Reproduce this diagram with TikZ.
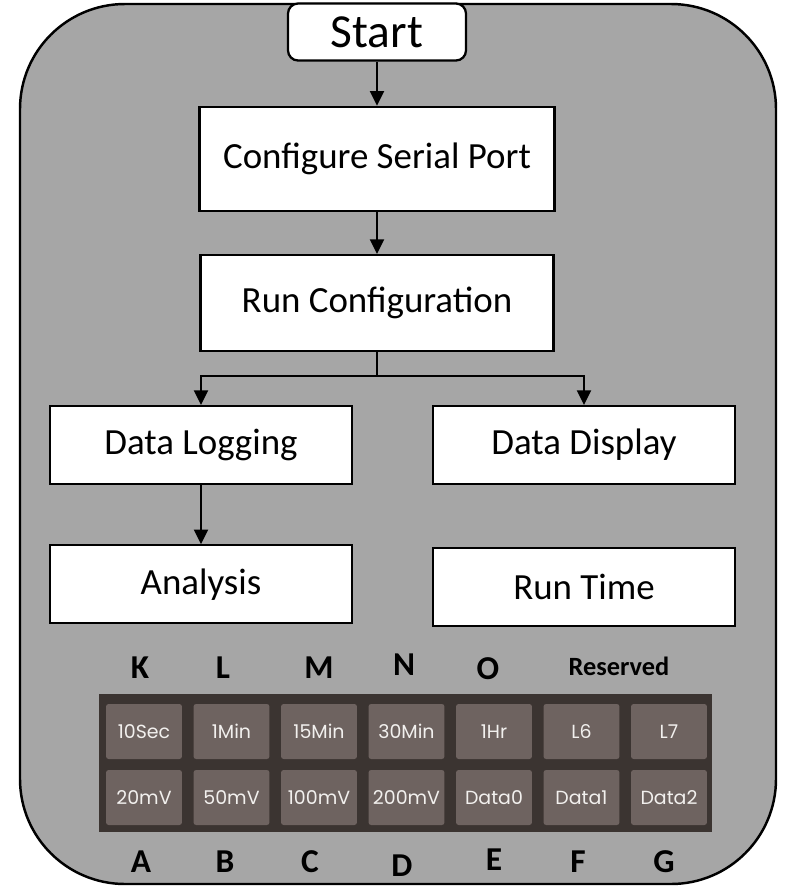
\documentclass[tikz,border=0pt]{standalone}
\usepackage{fontspec}
\setmainfont{Carlito}
\newfontfamily\btnfont{Poppins}
\usepackage{tikz}
\usetikzlibrary{arrows.meta, positioning}
\definecolor{fgray}{HTML}{A6A6A6}
\definecolor{fpanel}{HTML}{3B3431}
\definecolor{fbtn}{HTML}{6E6360}
\definecolor{fbtntext}{HTML}{F2F0EE}
\tikzset{
  frame/.style={draw=black, line width=1.4pt, fill=fgray, rounded corners=2.1cm},
  box/.style={rectangle, draw=black, line width=1.3pt, fill=white, text=black,
              minimum width=6.04cm, minimum height=1.56cm, align=center, font=\fontsize{21}{25}\selectfont},
  startbox/.style={box, rounded corners=0.2cm, minimum width=3.56cm, minimum height=1.14cm,
                   font=\fontsize{27}{31}\selectfont},
  panel/.style={rectangle, fill=fpanel, minimum width=12.26cm, minimum height=2.76cm},
  btn/.style={rectangle, rounded corners=1.5pt, fill=fbtn, text=fbtntext, inner sep=0pt,
              minimum width=1.52cm, minimum height=1.1cm, font=\btnfont\fontsize{10.8}{12}\selectfont},
  pin/.style={font=\bfseries\fontsize{19}{21}\selectfont},
  flow/.style={-{Triangle[length=2.9mm, width=2.8mm]}, draw=black, line width=1.1pt}
}
\begin{document}
\begin{tikzpicture}[x=0.02cm, y=-0.02cm, node distance=0.88cm]
  \useasboundingbox (0,0) rectangle (790,890);
  \draw[frame] (20,4) rectangle (776,884);
  % flow chart
  \node[startbox] (start) at (377,32) {Start};
  \node[box, below=0.88cm of start, minimum width=7.1cm, minimum height=2.08cm] (cfg) {Configure Serial Port};
  \node[box, below=0.84cm of cfg, minimum width=7.06cm, minimum height=1.92cm] (run) {Run Configuration};
  \node[box] (log) at (201,445) {Data Logging};
  \node[box] (disp) at (584,445) {Data Display};
  \node[box, below=1.18cm of log] (ana) {Analysis};
  \node[box, below=1.24cm of disp] (rt) {Run Time};
  \coordinate (split) at (377,376);
  \draw[flow] (start) -- (cfg);
  \draw[flow] (cfg) -- (run);
  \draw[line width=1.1pt] (run) -- (split);
  \draw[flow] (split) -| (log);
  \draw[flow] (split) -| (disp);
  \draw[flow] (log) -- (ana);
  % switch panel
  \node[panel] (panel) at (405.5,763) {};
  \node[btn] (b10s) at (144,731.5) {10Sec};
  \node[btn] (b1m) at (231.5,731.5) {1Min};
  \node[btn] (b15m) at (319,731.5) {15Min};
  \node[btn] (b30m) at (406.5,731.5) {30Min};
  \node[btn] (b1h) at (494,731.5) {1Hr};
  \node[btn] (bl6) at (581.5,731.5) {L6};
  \node[btn] (bl7) at (669,731.5) {L7};
  \node[btn] (b20) at (144,797.5) {20mV};
  \node[btn] (b50) at (231.5,797.5) {50mV};
  \node[btn] (b100) at (319,797.5) {100mV};
  \node[btn] (b200) at (406.5,797.5) {200mV};
  \node[btn] (bd0) at (494,797.5) {Data0};
  \node[btn] (bd1) at (581.5,797.5) {Data1};
  \node[btn] (bd2) at (669,797.5) {Data2};
  \node[pin] (pk) at (140,668) {K};
  \node[pin] (pl) at (223,668) {L};
  \node[pin] (pm) at (319,668) {M};
  \node[pin] (pn) at (404,665) {N};
  \node[pin] (po) at (488,669) {O};
  \node[pin, font=\bfseries\fontsize{15}{17}\selectfont] (pres) at (619,666) {Reserved};
  \node[pin] (pa) at (141,862) {A};
  \node[pin] (pb) at (225,862) {B};
  \node[pin] (pc) at (310,862) {C};
  \node[pin] (pd) at (402,866) {D};
  \node[pin] (pe) at (494,860) {E};
  \node[pin] (pf) at (578,862) {F};
  \node[pin] (pg) at (664,862) {G};
\end{tikzpicture}
\end{document}
